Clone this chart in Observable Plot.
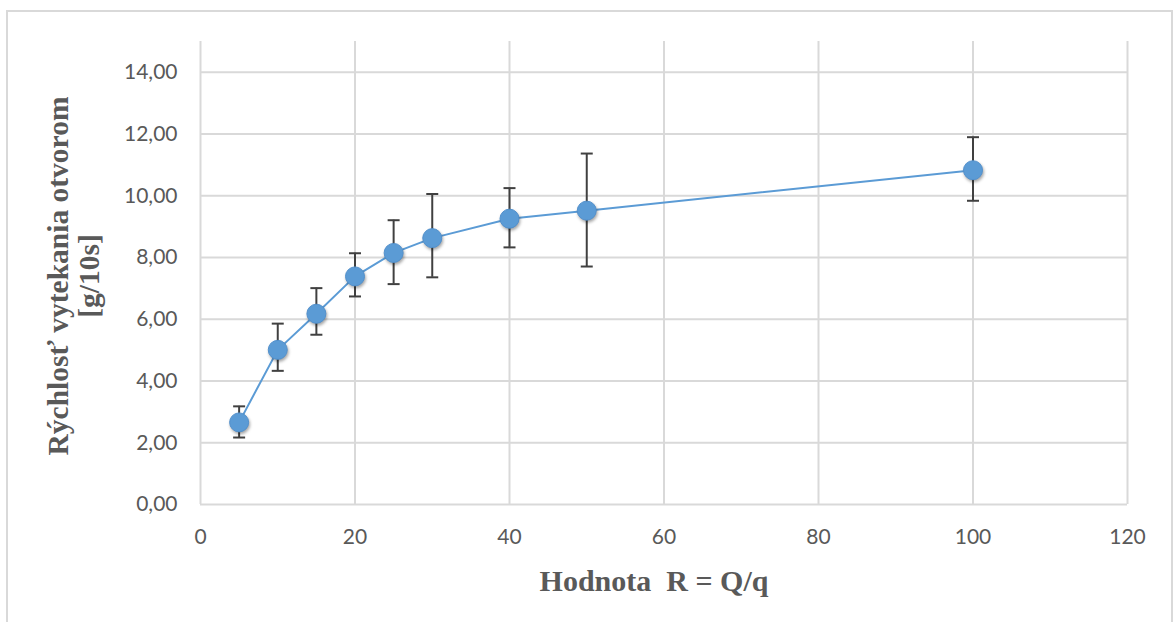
<!DOCTYPE html>
<html><head><meta charset="utf-8">
<script src="https://cdn.jsdelivr.net/npm/d3@7"></script>
<script src="https://cdn.jsdelivr.net/npm/@observablehq/plot@0.6"></script>
<style>
html,body{margin:0;padding:0;background:#fff;overflow:hidden}
#wrap{position:relative;width:1174px;height:622px}
#frame{position:absolute;left:6px;top:10px;width:1167px;height:640px;border:2px solid #d9d9d9;box-sizing:border-box}
#chart{position:absolute;left:0;top:0}
</style></head><body><div id="wrap"><div id="frame"></div><div id="chart"></div></div>
<script>
const R = [5, 10, 15, 20, 25, 30, 40, 50, 100];
const rate = [2.66, 5.01, 6.18, 7.39, 8.15, 8.63, 9.26, 9.52, 10.83];
const errHigh = [3.18, 5.86, 7.01, 8.14, 9.21, 10.06, 10.25, 11.37, 11.90];
const errLow = [2.17, 4.33, 5.50, 6.74, 7.14, 7.36, 8.33, 7.71, 9.84];
const yTicks = [0, 2, 4, 6, 8, 10, 12, 14];
const xTicks = [0, 20, 40, 60, 80, 100, 120];
const xTitle = "Hodnota  R = Q/q";
const yTitle = "Rýchlosť vytekania otvorom\n[g/10s]";

const data = R.map((r, i) => ({r, v: rate[i], hi: errHigh[i], lo: errLow[i]}));
const capSymbol = {draw(ctx, size) {const w = Math.sqrt(size / Math.PI); ctx.moveTo(-w, 0); ctx.lineTo(w, 0);}};
const grid = {stroke: "#d9d9d9", strokeOpacity: 1, strokeWidth: 2};
const titleFont = {fontFamily: "'Liberation Serif', 'Times New Roman', serif", fontWeight: "bold", fill: "#595959"};

const chart = Plot.plot({
  width: 1174, height: 622,
  marginLeft: 200, marginRight: 47, marginTop: 41, marginBottom: 118,
  style: {fontFamily: "Lato, 'Open Sans', sans-serif", fontSize: "21px", color: "#595959", background: "transparent"},
  x: {domain: [0, 120], ticks: xTicks, tickSize: 0, tickPadding: 25, label: null},
  y: {domain: [0, 15], ticks: yTicks, tickSize: 0, tickPadding: 23, label: null,
      tickFormat: d => d.toFixed(2).replace(".", ",")},
  marks: [
    Plot.gridY(yTicks, grid),
    Plot.gridX(xTicks, grid),
    Plot.line(data, {x: "r", y: "v", stroke: "#5B9BD5", strokeWidth: 2}),
    Plot.ruleX(data, {x: "r", y1: "lo", y2: "hi", stroke: "#404040", strokeWidth: 2}),
    Plot.dot(data, {x: "r", y: "hi", symbol: capSymbol, r: 6, fill: "none", stroke: "#404040", strokeWidth: 2}),
    Plot.dot(data, {x: "r", y: "lo", symbol: capSymbol, r: 6, fill: "none", stroke: "#404040", strokeWidth: 2}),
    Plot.dot(data, {x: "r", y: "v", r: 9.5, fill: "#5B9BD5", stroke: "#5290cc", strokeWidth: 1,
      imageFilter: "drop-shadow(1px 2px 1.5px rgba(0,0,0,0.35))"}),
    Plot.text([xTitle], {text: d => d, frameAnchor: "bottom", dx: -10, dy: 86, fontSize: 30, ...titleFont}),
    Plot.text([yTitle], {text: d => d, frameAnchor: "left", textAnchor: "middle", rotate: -90, dx: -127, dy: 3,
      fontSize: 29.5, lineHeight: 1.05, ...titleFont})
  ]
});
document.getElementById("chart").append(chart);
</script>
</body></html>
